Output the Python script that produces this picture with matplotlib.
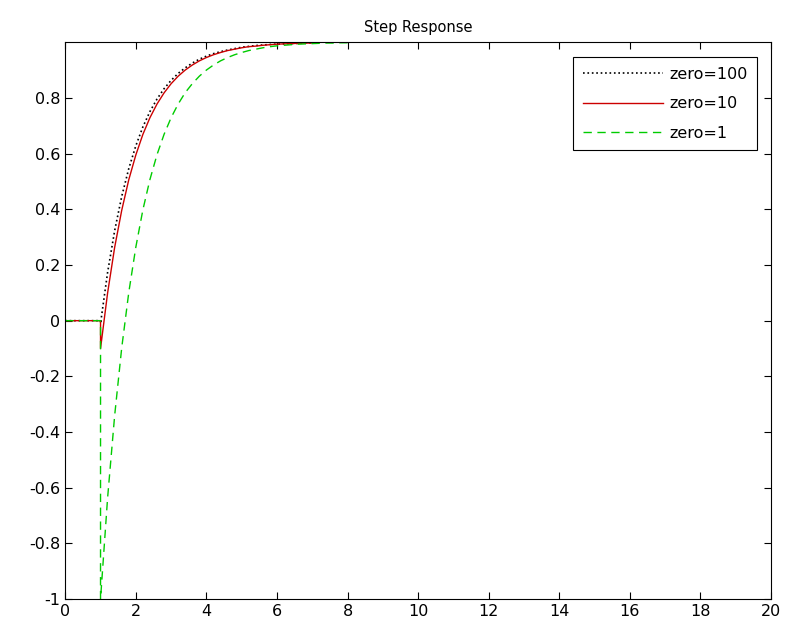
import matplotlib.pyplot as plt

# time axis (step applied at t = 1)
t = [0, 1, 1, 1.2, 1.4, 1.6, 1.8, 2.0, 2.2, 2.4, 2.6, 2.8, 3.0, 3.2, 3.4, 3.6,
     3.8, 4.0, 4.2, 4.4, 4.6, 4.8, 5.0, 5.2, 5.4, 5.6, 5.8, 6.0, 6.2, 6.4,
     6.6, 6.8, 7.0, 7.2, 7.4, 7.6, 7.8, 8.0]

zero100 = [0, 0, -0.01, 0.173, 0.323, 0.446, 0.546, 0.628, 0.696, 0.751, 0.796,
           0.833, 0.863, 0.888, 0.908, 0.925, 0.939, 0.950, 0.959, 0.966, 0.972,
           0.977, 0.982, 0.985, 0.988, 0.990, 0.992, 0.993, 0.994, 0.995, 0.996,
           0.997, 0.998]
zero10 = [0, 0, -0.1, 0.099, 0.263, 0.396, 0.506, 0.595, 0.669, 0.729, 0.778,
          0.818, 0.851, 0.878, 0.900, 0.918, 0.933, 0.945, 0.955, 0.963, 0.970,
          0.975, 0.980, 0.984, 0.986, 0.989, 0.991, 0.993, 0.994, 0.995, 0.996,
          0.997, 0.997]
zero1 = [0, 0, -1.0, -0.637, -0.341, -0.098, 0.101, 0.264, 0.398, 0.507, 0.596,
         0.669, 0.729, 0.778, 0.819, 0.851, 0.878, 0.900, 0.918, 0.933, 0.945,
         0.955, 0.963, 0.970, 0.975, 0.980, 0.984, 0.987, 0.989, 0.991, 0.993,
         0.994, 0.995, 0.996, 0.997, 0.997, 0.998, 0.998]

xticks = [0, 2, 4, 6, 8, 10, 12, 14, 16, 18, 20]
yticks = [-1, -0.8, -0.6, -0.4, -0.2, 0, 0.2, 0.4, 0.6, 0.8]
ytick_labels = ['-1', '-0.8', '-0.6', '-0.4', '-0.2', '0', '0.2', '0.4', '0.6', '0.8']

fig = plt.figure(figsize=(7.86, 6.3), dpi=100)
ax = fig.add_axes([0.083, 0.049, 0.898, 0.884])

ax.plot(t[:len(zero100)], zero100, color='k', linestyle=':', linewidth=1.2, label='zero=100')
ax.plot(t[:len(zero10)], zero10, color='#cc0000', linestyle='-', linewidth=1.0, label='zero=10')
ax.plot(t, zero1, color='#00cc00', linestyle='--', linewidth=1.0, dashes=(6, 4), label='zero=1')

ax.set_xlim(0, 20)
ax.set_ylim(-1, 1)
ax.set_xticks(xticks)
ax.set_yticks(yticks)
ax.set_yticklabels(ytick_labels)
ax.tick_params(direction='in', top=True, right=True, labelsize=11.5, length=5)
for s in ax.spines.values():
    s.set_linewidth(0.8)

ax.set_title('Step Response', fontsize=10.5, pad=7)
leg = ax.legend(loc='upper right', bbox_to_anchor=(0.980, 0.973), borderaxespad=0,
                fontsize=11.5, fancybox=False, edgecolor='k', framealpha=1,
                handlelength=5, handletextpad=0.4, borderpad=0.6, labelspacing=0.9)
leg.get_frame().set_linewidth(0.8)

fig.savefig('out.png', dpi=100)
